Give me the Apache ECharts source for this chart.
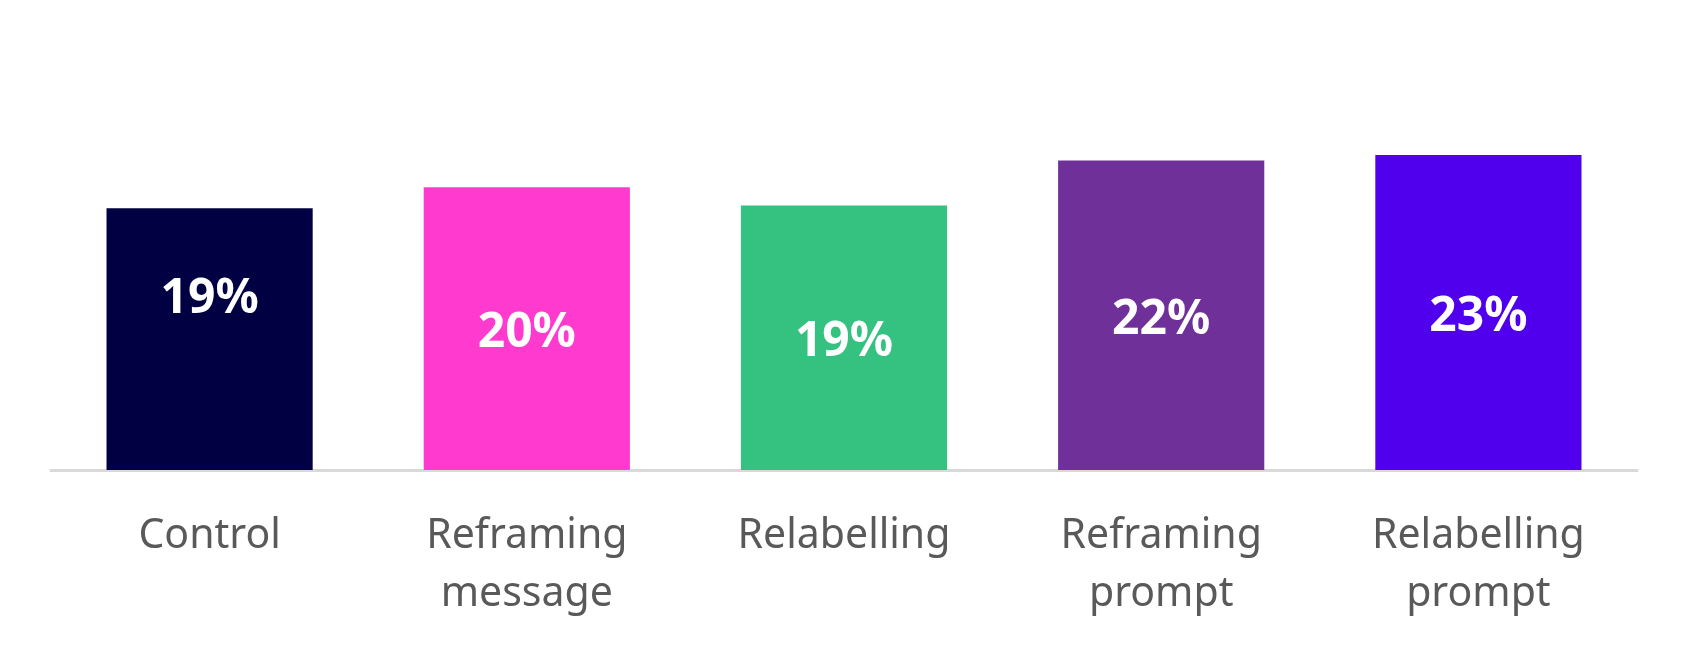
<!DOCTYPE html>
<html>
<head>
<meta charset="utf-8">
<script src="https://cdn.jsdelivr.net/npm/echarts@6/dist/echarts.min.js"></script>
<style>
    html, body { margin: 0; padding: 0; background: #ffffff; }
    #main { width: 1689px; height: 649px; }
</style>
</head>
<body>
<div id="main"></div>
<script>
// categories, read left to right
var categories = ['Control', 'Reframing\nmessage', 'Relabelling', 'Reframing\nprompt', 'Relabelling\nprompt'];
// share (%) per group
var values = [18.7, 20.2, 18.9, 22.1, 22.5];
var barColors = ['#000042', '#ff3bcf', '#35c281', '#6f309a', '#5000ed'];

var chart = echarts.init(document.getElementById('main'));

var data = [];
for (var i = 0; i < values.length; i++) {
    var item = {
        value: values[i],
        itemStyle: { color: barColors[i] }
    };
    // first label sits higher in the bar in the original
    if (i === 0) {
        item.label = { offset: [0, -40] };
    }
    data.push(item);
}

var option = {
    backgroundColor: '#ffffff',
    animation: false,
    grid: {
        left: 51,
        right: 52,
        top: 50,
        bottom: 179
    },
    xAxis: {
        type: 'category',
        data: categories,
        axisLine: { show: true, lineStyle: { color: '#d9d9d9', width: 3 } },
        axisTick: { show: false },
        axisLabel: {
            color: '#595959',
            fontFamily: 'Noto Sans',
            fontSize: 41,
            lineHeight: 58,
            margin: 37,
            interval: 0
        }
    },
    yAxis: {
        type: 'value',
        min: 0,
        max: 30,
        show: false
    },
    series: [{
        type: 'bar',
        data: data,
        barCategoryGap: '35%',
        label: {
            show: true,
            position: 'inside',
            offset: [0, 5],
            color: '#ffffff',
            fontFamily: 'Noto Sans',
            fontWeight: 'bold',
            fontSize: 48,
            formatter: function (p) {
                return Math.round(p.value) + '%';
            }
        }
    }]
};

chart.setOption(option);
</script>
</body>
</html>
